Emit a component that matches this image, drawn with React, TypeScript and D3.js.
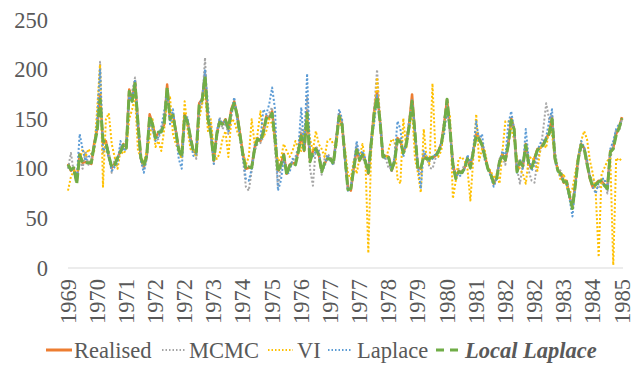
import React from "react";
import * as d3 from "d3";

// monthly values, one point per month (191 points)
const realised = [
  105, 98, 100, 87, 115, 106, 107, 106, 105, 126,
  140, 175, 126, 128, 112, 101, 105, 111, 118, 125,
  122, 180, 170, 188, 145, 110, 102, 112, 155, 145,
  132, 136, 138, 145, 185, 150, 155, 138, 118, 113,
  155, 148, 131, 118, 116, 166, 170, 195, 150, 136,
  108, 135, 148, 145, 150, 140, 160, 168, 155, 135,
  115, 100, 101, 102, 121, 131, 128, 138, 153, 151,
  158, 131, 98, 105, 115, 95, 104, 106, 105, 118,
  135, 118, 158, 108, 118, 121, 115, 98, 105, 111,
  110, 106, 130, 155, 145, 111, 81, 78, 101, 120,
  108, 115, 108, 95, 128, 158, 178, 148, 113, 113,
  112, 98, 108, 131, 128, 116, 125, 145, 175, 135,
  101, 100, 113, 110, 111, 111, 113, 118, 125, 145,
  170, 140, 105, 91, 98, 96, 101, 111, 102, 118,
  135, 131, 125, 112, 101, 95, 85, 91, 108, 115,
  108, 125, 151, 140, 98, 108, 102, 125, 106, 100,
  111, 120, 121, 125, 131, 136, 152, 110, 99, 95,
  86, 88, 72, 62, 85, 111, 125, 121, 106, 90,
  81, 85, 88, 87, 84, 82, 118, 121, 135, 142, 152,
];

const mcmc = [
  100, 116, 96, 88, 110, 100, 118, 104, 110, 120,
  145, 208, 115, 125, 118, 96, 110, 108, 122, 118,
  130, 172, 178, 192, 150, 110, 100, 118, 150, 140,
  128, 130, 140, 150, 172, 158, 150, 140, 122, 115,
  150, 150, 126, 120, 110, 160, 166, 212, 140, 145,
  105, 130, 152, 140, 146, 135, 152, 170, 150, 130,
  110, 82, 78, 98, 118, 125, 126, 132, 150, 156,
  162, 120, 82, 100, 110, 98, 100, 108, 112, 122,
  140, 130, 172, 100, 83, 122, 120, 94, 110, 115,
  112, 104, 126, 150, 148, 108, 80, 82, 104, 125,
  110, 112, 104, 98, 122, 160, 200, 150, 118, 110,
  100, 101, 110, 128, 130, 116, 128, 150, 165, 140,
  98, 95, 115, 112, 101, 100, 110, 120, 122, 150,
  165, 135, 108, 93, 100, 98, 104, 112, 100, 120,
  138, 135, 120, 108, 100, 96, 85, 93, 110, 112,
  104, 130, 145, 138, 100, 85, 105, 120, 98, 88,
  86, 110, 118, 140, 166, 150, 155, 118, 100, 98,
  90, 85, 75, 60, 88, 110, 120, 118, 104, 92,
  90, 84, 80, 85, 88, 75, 110, 125, 140, 138, 150,
];

const vi = [
  78, 92, 98, 95, 108, 120, 112, 120, 115, 118,
  160, 205, 82, 150, 156, 125, 112, 100, 118, 115,
  120, 150, 160, 172, 118, 112, 106, 118, 130, 150,
  122, 128, 118, 140, 168, 172, 135, 125, 118, 110,
  168, 140, 120, 118, 112, 150, 165, 178, 138, 150,
  118, 110, 115, 130, 138, 112, 150, 148, 138, 130,
  118, 104, 112, 150, 125, 135, 158, 132, 138, 150,
  145, 128, 108, 110, 125, 118, 112, 118, 128, 120,
  118, 138, 150, 130, 118, 138, 125, 120, 112, 128,
  130, 125, 122, 150, 140, 120, 95, 90, 108, 95,
  112, 125, 108, 15, 120, 150, 192, 150, 112, 110,
  120, 130, 128, 90, 85, 151, 120, 140, 160, 110,
  96, 76, 140, 110, 105, 186, 118, 112, 118, 140,
  160, 155, 70, 88, 110, 112, 108, 100, 68, 110,
  155, 108, 120, 118, 101, 98, 90, 95, 85, 118,
  148, 148, 140, 130, 110, 100, 95, 85, 110, 112,
  108, 98, 121, 125, 121, 140, 135, 110, 100, 88,
  95, 82, 75, 80, 96, 112, 128, 138, 130, 108,
  95, 75, 11, 95, 101, 108, 111, 3, 111, 108, 111,
];

const laplace = [
  102, 100, 96, 90, 135, 120, 108, 112, 114, 122,
  148, 200, 118, 122, 110, 98, 102, 106, 128, 118,
  120, 175, 168, 190, 140, 108, 96, 110, 150, 140,
  128, 132, 142, 158, 178, 145, 160, 135, 110, 100,
  150, 152, 128, 113, 114, 163, 172, 200, 165, 135,
  105, 138, 150, 146, 148, 138, 155, 172, 152, 132,
  112, 90, 88, 100, 124, 128, 130, 160, 155, 165,
  182, 160, 78, 88, 110, 95, 96, 110, 108, 120,
  162, 120, 196, 115, 112, 118, 118, 98, 102, 114,
  108, 104, 132, 160, 150, 108, 78, 80, 104, 128,
  112, 118, 110, 96, 130, 145, 175, 150, 112, 110,
  110, 98, 112, 148, 140, 112, 126, 140, 170, 138,
  104, 80, 118, 112, 108, 110, 115, 118, 126, 135,
  160, 140, 100, 95, 92, 94, 100, 114, 105, 120,
  148, 128, 135, 110, 100, 92, 82, 90, 108, 118,
  112, 145, 158, 140, 96, 110, 100, 140, 110, 98,
  104, 118, 126, 128, 132, 148, 160, 108, 98, 92,
  88, 84, 70, 52, 82, 112, 128, 122, 110, 92,
  82, 75, 86, 90, 90, 80, 120, 128, 140, 145, 148,
];

const localLaplace = [
  104, 99, 101, 85, 114, 107, 106, 106, 106, 124,
  138, 170, 128, 127, 113, 102, 104, 111, 117, 124,
  121, 178, 168, 186, 146, 111, 103, 113, 153, 145,
  131, 137, 137, 146, 182, 150, 154, 137, 119, 112,
  153, 147, 132, 117, 117, 164, 169, 193, 151, 135,
  109, 134, 147, 145, 149, 141, 158, 166, 154, 134,
  114, 100, 102, 101, 120, 130, 128, 137, 151, 150,
  156, 130, 97, 104, 114, 94, 103, 106, 104, 117,
  133, 119, 156, 107, 117, 120, 114, 97, 106, 110,
  110, 105, 128, 153, 144, 112, 79, 80, 100, 119,
  109, 114, 107, 96, 126, 156, 172, 149, 112, 114,
  111, 99, 107, 129, 127, 116, 124, 143, 168, 136,
  100, 101, 112, 110, 110, 112, 112, 117, 124, 143,
  170, 141, 104, 90, 97, 96, 100, 110, 101, 117,
  133, 130, 124, 112, 100, 94, 86, 90, 107, 114,
  109, 124, 149, 140, 97, 107, 103, 124, 105, 101,
  110, 119, 121, 124, 130, 135, 150, 111, 98, 95,
  87, 87, 73, 60, 84, 110, 124, 121, 105, 91,
  82, 84, 87, 88, 83, 80, 117, 120, 134, 141, 151,
];

// category labels shown every 10th month
const tickLabels = [
  "1969", "1970", "1971", "1972", "1972", "1973", "1974", "1975", "1976", "1977",
  "1977", "1978", "1979", "1980", "1981", "1982", "1982", "1983", "1984", "1985",
];
const yTicks = [0, 50, 100, 150, 200, 250];

const W = 639;
const H = 366;
const textColor = "#595959";
const serif = "Liberation Serif";

const series = [
  { name: "Realised", data: realised, color: "#ED7D31", width: 2.5, dash: null, legendDash: null },
  { name: "MCMC", data: mcmc, color: "#A5A5A5", width: 2, dash: "2,2", legendDash: "1.5,2" },
  { name: "VI", data: vi, color: "#FFC000", width: 2, dash: "2,2", legendDash: "1.5,2" },
  { name: "Laplace", data: laplace, color: "#5B9BD5", width: 2, dash: "2,2", legendDash: "1.5,2" },
  { name: "Local Laplace", data: localLaplace, color: "#70AD47", width: 3, dash: "10,3", legendDash: "8,6" },
];

const legendPos = [
  { line: [46, 72], text: 74 },
  { line: [162, 186], text: 189 },
  { line: [268, 293], text: 297 },
  { line: [328, 352], text: 357 },
  { line: [436, 462], text: 465 },
];

export default function App() {
  const n = realised.length;
  const x = d3.scaleLinear().domain([0, n - 1]).range([68, 622]);
  const y = d3.scaleLinear().domain([0, 250]).range([268, 20]);

  const line = d3
    .line<number>()
    .x((_, i) => x(i))
    .y((d) => y(d));

  const txt = { fontFamily: serif, fill: textColor };

  return (
    <svg
      width={W}
      height={H}
      style={{ position: "absolute", left: 0, top: 0, background: "#fff" }}
    >
      {/* y tick labels */}
      {yTicks.map((t) => (
        <text
          key={t}
          x={48}
          y={y(t)}
          textAnchor="end"
          dominantBaseline="central"
          fontSize={22.5}
          style={txt}
        >
          {t}
        </text>
      ))}

      {/* category axis */}
      <line x1={68} x2={623} y1={y(0)} y2={y(0)} stroke="#D9D9D9" strokeWidth={1.2} />
      {tickLabels.map((lab, k) => (
        <text
          key={k}
          transform={`translate(${x(k * 10)},279) rotate(-90)`}
          textAnchor="end"
          dominantBaseline="central"
          fontSize={22.5}
          style={txt}
        >
          {lab}
        </text>
      ))}

      {/* series */}
      {series.map((s) => (
        <path
          key={s.name}
          d={line(s.data) || ""}
          fill="none"
          stroke={s.color}
          strokeWidth={s.width}
          strokeDasharray={s.dash || undefined}
          strokeLinejoin="round"
        />
      ))}

      {/* legend */}
      {series.map((s, i) => (
        <g key={s.name}>
          <line
            x1={legendPos[i].line[0]}
            x2={legendPos[i].line[1]}
            y1={350}
            y2={350}
            stroke={s.color}
            strokeWidth={s.name === "Realised" || s.name === "Local Laplace" ? 3 : 2}
            strokeDasharray={s.legendDash || undefined}
          />
          <text
            x={legendPos[i].text}
            y={350}
            dominantBaseline="central"
            fontSize={22.5}
            style={{
              ...txt,
              fontWeight: s.name === "Local Laplace" ? "bold" : "normal",
              fontStyle: s.name === "Local Laplace" ? "italic" : "normal",
            }}
          >
            {s.name}
          </text>
        </g>
      ))}
    </svg>
  );
}
